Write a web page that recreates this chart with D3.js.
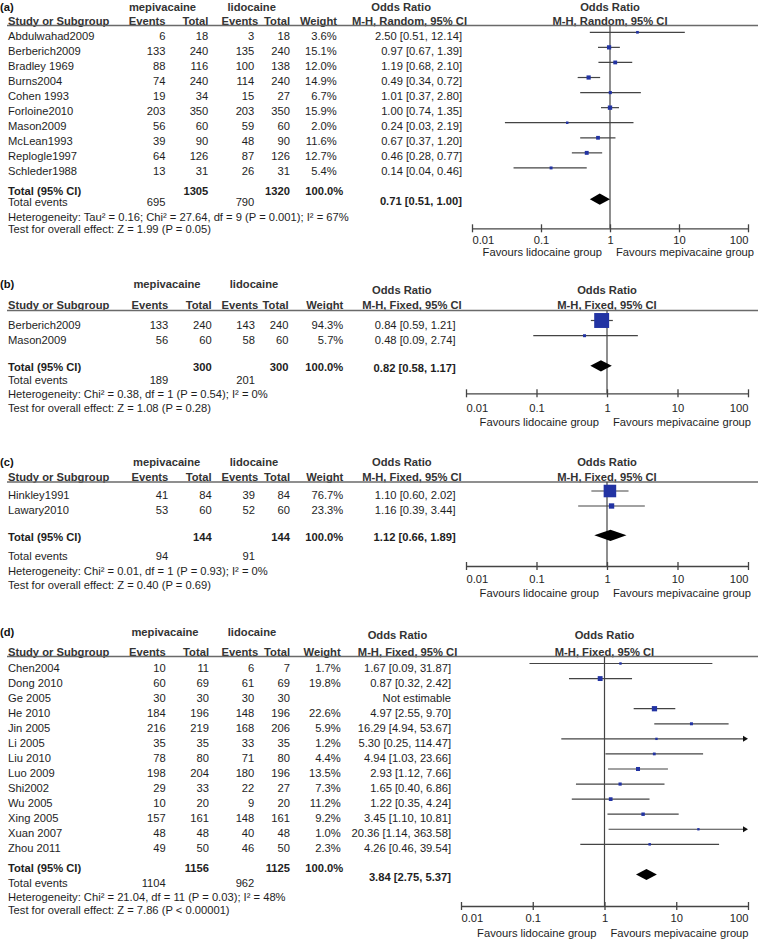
<!DOCTYPE html>
<html><head><meta charset="utf-8">
<script src="https://cdn.jsdelivr.net/npm/d3@7"></script>
<style>body{margin:0;background:#fff}svg{display:block}</style>
</head><body>
<svg id="chart" width="758" height="939"></svg>
<script>
// ---------------- DATA ----------------
const tickValues = [0.01, 0.1, 1, 10, 100];
const tickLabels = ["0.01", "0.1", "1", "10", "100"];
const favoursLeft = "Favours lidocaine group";
const favoursRight = "Favours mepivacaine group";

// Panel (a)
const studiesA = ["Abdulwahad2009","Berberich2009","Bradley 1969","Burns2004","Cohen 1993","Forloine2010","Mason2009","McLean1993","Replogle1997","Schleder1988"];
const mepiEventsA = [6,133,88,74,19,203,56,39,64,13];
const mepiTotalA  = [18,240,116,240,34,350,60,90,126,31];
const lidoEventsA = [3,135,100,114,15,203,59,48,87,26];
const lidoTotalA  = [18,240,138,240,27,350,60,90,126,31];
const weightA = [3.6,15.1,12.0,14.9,6.7,15.9,2.0,11.6,12.7,5.4];
const orA = [2.50,0.97,1.19,0.49,1.01,1.00,0.24,0.67,0.46,0.14];
const loA = [0.51,0.67,0.68,0.34,0.37,0.74,0.03,0.37,0.28,0.04];
const hiA = [12.14,1.39,2.10,0.72,2.80,1.35,2.19,1.20,0.77,0.46];
const totalsA = [1305, 1320, 100.0];
const pooledA = [0.71, 0.51, 1.00];
const totalEventsA = [695, 790];
const hetA = "Heterogeneity: Tau² = 0.16; Chi² = 27.64, df = 9 (P = 0.001); I² = 67%";
const testA = "Test for overall effect: Z = 1.99 (P = 0.05)";
const methodA = "M-H, Random, 95% CI";

// Panel (b)
const studiesB = ["Berberich2009","Mason2009"];
const mepiEventsB = [133,56];
const mepiTotalB  = [240,60];
const lidoEventsB = [143,58];
const lidoTotalB  = [240,60];
const weightB = [94.3,5.7];
const orB = [0.84,0.48];
const loB = [0.59,0.09];
const hiB = [1.21,2.74];
const totalsB = [300, 300, 100.0];
const pooledB = [0.82, 0.58, 1.17];
const totalEventsB = [189, 201];
const hetB = "Heterogeneity: Chi² = 0.38, df = 1 (P = 0.54); I² = 0%";
const testB = "Test for overall effect: Z = 1.08 (P = 0.28)";
const methodB = "M-H, Fixed, 95% CI";

// Panel (c)
const studiesC = ["Hinkley1991","Lawary2010"];
const mepiEventsC = [41,53];
const mepiTotalC  = [84,60];
const lidoEventsC = [39,52];
const lidoTotalC  = [84,60];
const weightC = [76.7,23.3];
const orC = [1.10,1.16];
const loC = [0.60,0.39];
const hiC = [2.02,3.44];
const totalsC = [144, 144, 100.0];
const pooledC = [1.12, 0.66, 1.89];
const totalEventsC = [94, 91];
const hetC = "Heterogeneity: Chi² = 0.01, df = 1 (P = 0.93); I² = 0%";
const testC = "Test for overall effect: Z = 0.40 (P = 0.69)";
const methodC = "M-H, Fixed, 95% CI";

// Panel (d)
const studiesD = ["Chen2004","Dong 2010","Ge 2005","He 2010","Jin 2005","Li 2005","Liu 2010","Luo 2009","Shi2002","Wu 2005","Xing 2005","Xuan 2007","Zhou 2011"];
const mepiEventsD = [10,60,30,184,216,35,78,198,29,10,157,48,49];
const mepiTotalD  = [11,69,30,196,219,35,80,204,33,20,161,48,50];
const lidoEventsD = [6,61,30,148,168,33,71,180,22,9,148,40,46];
const lidoTotalD  = [7,69,30,196,206,35,80,196,27,20,161,48,50];
const weightD = [1.7,19.8,null,22.6,5.9,1.2,4.4,13.5,7.3,11.2,9.2,1.0,2.3];
const orD = [1.67,0.87,null,4.97,16.29,5.30,4.94,2.93,1.65,1.22,3.45,20.36,4.26];
const loD = [0.09,0.32,null,2.55,4.94,0.25,1.03,1.12,0.40,0.35,1.10,1.14,0.46];
const hiD = [31.87,2.42,null,9.70,53.67,114.47,23.66,7.66,6.86,4.24,10.81,363.58,39.54];
const totalsD = [1156, 1125, 100.0];
const pooledD = [3.84, 2.75, 5.37];
const totalEventsD = [1104, 962];
const hetD = "Heterogeneity: Chi² = 21.04, df = 11 (P = 0.03); I² = 48%";
const testD = "Test for overall effect: Z = 7.86 (P < 0.00001)";
const methodD = "M-H, Fixed, 95% CI";

const panels = [
  {label:"(a)", studies:studiesA, me:mepiEventsA, mt:mepiTotalA, le:lidoEventsA, lt:lidoTotalA, w:weightA, or:orA, lo:loA, hi:hiA, totals:totalsA, pooled:pooledA, te:totalEventsA, het:hetA, test:testA, method:methodA},
  {label:"(b)", studies:studiesB, me:mepiEventsB, mt:mepiTotalB, le:lidoEventsB, lt:lidoTotalB, w:weightB, or:orB, lo:loB, hi:hiB, totals:totalsB, pooled:pooledB, te:totalEventsB, het:hetB, test:testB, method:methodB},
  {label:"(c)", studies:studiesC, me:mepiEventsC, mt:mepiTotalC, le:lidoEventsC, lt:lidoTotalC, w:weightC, or:orC, lo:loC, hi:hiC, totals:totalsC, pooled:pooledC, te:totalEventsC, het:hetC, test:testC, method:methodC},
  {label:"(d)", studies:studiesD, me:mepiEventsD, mt:mepiTotalD, le:lidoEventsD, lt:lidoTotalD, w:weightD, or:orD, lo:loD, hi:hiD, totals:totalsD, pooled:pooledD, te:totalEventsD, het:hetD, test:testD, method:methodD}
];

// ---------------- LAYOUT ----------------
const layouts = [
  {titleY:6.5, orTitleY:6.5, row2Y:20.7, ruleY:25.5, row0:35.8, step:15.07, markDy:-3.5,
   totalY:190.7, totalRY:201.2, teY:202.3, hetY:216.7, testY:229, axisY:228.3, tickY:240, favY:251.7,
   x0:472, x1:748, orTextX:462, orHeadX:467, orTitleEnd:431,
   ev1:165.5, tot1:208.3, ev2:254.3, ev2H:258.3, tot2:290, wt:336.7, wtH:337, wtTot:343.3, mepiC:162.5, lidoC:251.7},
  {titleY:284, orTitleY:289.5, row2Y:305, ruleY:310.5, row0:325, step:15.2, markDy:-4.5,
   totalY:366.5, totalRY:367.8, teY:380.3, hetY:394.2, testY:408.3, axisY:393.3, tickY:408.3, favY:421.7,
   x0:466, x1:748, orTextX:455.7, orHeadX:461.7, orTitleEnd:431.7,
   ev1:168.3, tot1:211.7, ev2:255, ev2H:258.3, tot2:288.5, wt:343.3, wtH:343.3, wtTot:343.3, mepiC:167, lidoC:254},
  {titleY:461.7, orTitleY:461.7, row2Y:477, ruleY:482, row0:495, step:15, markDy:-4,
   totalY:537, totalRY:537.3, teY:555.5, hetY:570.5, testY:584.5, axisY:566, tickY:579.3, favY:593.3,
   x0:466, x1:748, orTextX:455.7, orHeadX:461.7, orTitleEnd:431.7,
   ev1:168.3, tot1:211.7, ev2:255, ev2H:258.3, tot2:290, wt:343.3, wtH:343.3, wtTot:343.3, mepiC:166.7, lidoC:254},
  {titleY:631.7, orTitleY:635, row2Y:651.5, ruleY:656.5, row0:667.5, step:15.07, markDy:-4,
   totalY:868.3, totalRY:876.5, teY:883.3, hetY:896.7, testY:910, axisY:906, tickY:918.3, favY:933.3,
   x0:461, x1:748, orTextX:451, orHeadX:457.3, orTitleEnd:427.3,
   ev1:165.7, tot1:209, ev2:254.3, ev2H:258.3, tot2:290, wt:340.7, wtH:340.7, wtTot:343.3, mepiC:165, lidoC:252}
];

// ---------------- DRAW ----------------
const FONT = '"Liberation Sans", Arial, Helvetica, sans-serif';
const FS = 11.2;
const TEXT = "#1e1e1e", HEAD = "#333333", LINE = "#444444", BLUE = "#2233a3";
const svg = d3.select("#chart").attr("font-family", FONT).attr("font-size", FS);
const f2 = d3.format(".2f"), f1 = d3.format(".1f");
const orText = (o, l, h) => `${f2(o)} [${f2(l)}, ${f2(h)}]`;

function drawPanel(P, L) {
  const g = svg.append("g");
  const x = d3.scaleLog().domain([tickValues[0], tickValues[tickValues.length - 1]]).range([L.x0, L.x1]);
  const size = d3.scaleLinear().domain([0, 100]).range([2.2, 15.7]);
  const cx = x(1);
  const t = (s, xx, yy, anchor, bold, fill) => g.append("text")
      .attr("x", xx).attr("y", yy + 4)
      .attr("text-anchor", anchor || "start")
      .attr("font-weight", bold ? "bold" : "normal")
      .attr("fill", fill || (bold ? HEAD : TEXT))
      .text(s);

  // header rows
  t(P.label, 0, L.titleY, "start", true, "#111");
  t("mepivacaine", L.mepiC, L.titleY, "middle", true);
  t("lidocaine", L.lidoC, L.titleY, "middle", true);
  t("Odds Ratio", L.orTitleEnd, L.orTitleY, "end", true);
  t("Odds Ratio", cx, L.orTitleY, "middle", true);
  t("Study or Subgroup", 8, L.row2Y, "start", true);
  t("Events", L.ev1, L.row2Y, "end", true);
  t("Total", L.tot1, L.row2Y, "end", true);
  t("Events", L.ev2H, L.row2Y, "end", true);
  t("Total", L.tot2, L.row2Y, "end", true);
  t("Weight", L.wtH, L.row2Y, "end", true);
  t(P.method, L.orHeadX, L.row2Y, "end", true);
  t(P.method, cx, L.row2Y, "middle", true);
  g.append("line").attr("x1", 7).attr("x2", 758).attr("y1", L.ruleY).attr("y2", L.ruleY)
    .attr("stroke", "#6a6a6a").attr("stroke-width", 1.6);

  // reference line at OR = 1
  g.append("line").attr("x1", cx).attr("x2", cx).attr("y1", L.ruleY).attr("y2", L.axisY)
    .attr("stroke", LINE).attr("stroke-width", 1.2);

  // study rows
  P.studies.forEach((s, i) => {
    const y = L.row0 + i * L.step;
    t(s, 8, y);
    t(P.me[i], L.ev1, y, "end");
    t(P.mt[i], L.tot1, y, "end");
    t(P.le[i], L.ev2, y, "end");
    t(P.lt[i], L.tot2, y, "end");
    if (P.w[i] != null) t(f1(P.w[i]) + "%", L.wt, y, "end");
    if (P.or[i] == null) { t("Not estimable", L.orTextX, y, "end"); return; }
    t(orText(P.or[i], P.lo[i], P.hi[i]), L.orTextX, y, "end");
    const my = y + L.markDy;
    const xl = Math.max(L.x0, x(Math.max(P.lo[i], tickValues[0])));
    const over = P.hi[i] > tickValues[tickValues.length - 1];
    const xr = over ? L.x1 - 4 : x(P.hi[i]);
    g.append("line").attr("x1", xl).attr("x2", xr).attr("y1", my).attr("y2", my)
      .attr("stroke", LINE).attr("stroke-width", 1.2);
    if (over) {
      g.append("path").attr("d", `M${L.x1},${my} L${L.x1 - 5},${my - 3} L${L.x1 - 5},${my + 3} Z`).attr("fill", "#111");
    }
    const sz = size(P.w[i]);
    g.append("rect").attr("x", x(P.or[i]) - sz / 2).attr("y", my - sz / 2)
      .attr("width", sz).attr("height", sz).attr("fill", BLUE);
  });

  // total row
  t("Total (95% CI)", 8, L.totalY, "start", true, TEXT);
  t(P.totals[0], L.tot1, L.totalY, "end", true, TEXT);
  t(P.totals[1], L.tot2, L.totalY, "end", true, TEXT);
  t(f1(P.totals[2]) + "%", L.wtTot, L.totalY, "end", true, TEXT);
  t(orText(P.pooled[0], P.pooled[1], P.pooled[2]), L.orTextX, L.totalRY, "end", true, TEXT);
  const dy = L.totalRY - 2, h = 5.6;
  g.append("path")
    .attr("d", `M${x(P.pooled[1])},${dy} L${x(P.pooled[0])},${dy - h} L${x(P.pooled[2])},${dy} L${x(P.pooled[0])},${dy + h} Z`)
    .attr("fill", "#000");

  t("Total events", 8, L.teY);
  t(P.te[0], L.ev1, L.teY, "end");
  t(P.te[1], L.ev2, L.teY, "end");
  t(P.het, 8, L.hetY);
  t(P.test, 8, L.testY);

  // axis
  const axis = d3.axisBottom(x).tickValues(tickValues)
    .tickFormat((d, i) => tickLabels[i]).tickSize(4).tickSizeOuter(0);
  const ag = g.append("g").attr("transform", `translate(0,${L.axisY})`).call(axis)
    .attr("font-family", FONT).attr("font-size", FS);
  ag.select(".domain").attr("stroke", LINE).attr("stroke-width", 1.3);
  ag.selectAll(".tick line").attr("y1", -4).attr("y2", 4).attr("stroke", LINE).attr("stroke-width", 1.3);
  ag.selectAll(".tick text").attr("y", L.tickY - L.axisY + 4).attr("dy", null).attr("fill", TEXT)
    .attr("text-anchor", (d, i) => i === 0 ? "start" : (i === tickValues.length - 1 ? "end" : "middle"));
  t(favoursLeft, cx - 8, L.favY, "end", false);
  t(favoursRight, cx + 6, L.favY, "start", false);
}

panels.forEach((P, i) => drawPanel(P, layouts[i]));
</script>
</body></html>
